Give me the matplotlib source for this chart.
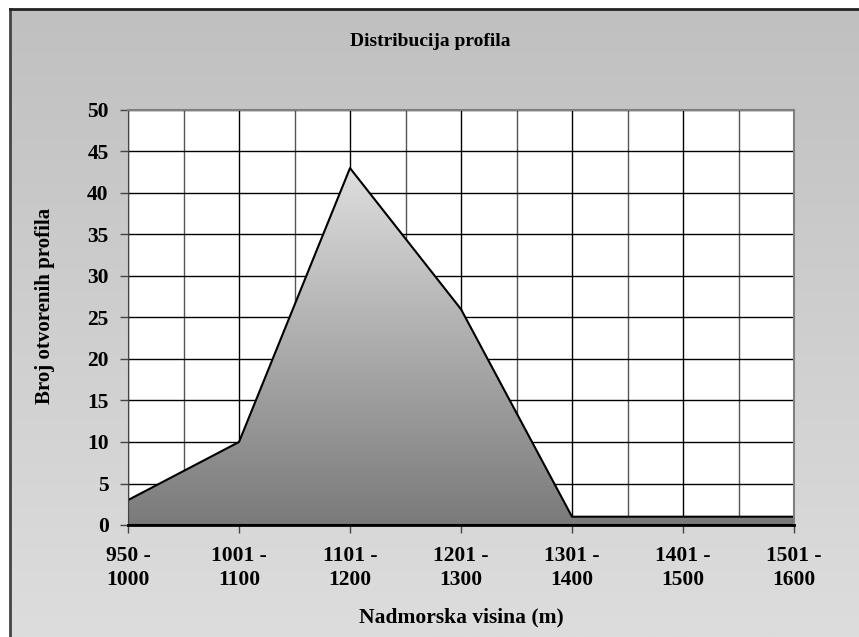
import numpy as np
import matplotlib
matplotlib.use("Agg")
import matplotlib.pyplot as plt
from matplotlib.colors import LinearSegmentedColormap

categories = ["950 -\n1000", "1001 -\n1100", "1101 -\n1200", "1201 -\n1300",
              "1301 -\n1400", "1401 -\n1500", "1501 -\n1600"]
counts = [3, 10, 43, 26, 1, 1, 1]

plt.rcParams['font.family'] = ['Liberation Serif', 'DejaVu Serif']
plt.rcParams['font.weight'] = 'bold'

W, H = 859, 637
fig = plt.figure(figsize=(W / 100, H / 100), dpi=100)
fig.patch.set_facecolor('white')

# chart area background (gray gradient) with frame
bg = fig.add_axes([10 / W, 0, 1 - 10 / W, 1 - 9 / H])
bg_cmap = LinearSegmentedColormap.from_list('bg', ['#dddddd', '#c0c0c0'])
bg.imshow(np.linspace(0, 1, 256).reshape(-1, 1), aspect='auto',
          cmap=bg_cmap, origin='lower', extent=[0, 1, 0, 1])
bg.set_xlim(0, 1)
bg.set_ylim(0, 1)
bg.set_xticks([])
bg.set_yticks([])
for side in ['right', 'bottom']:
    bg.spines[side].set_visible(False)
bg.spines['top'].set_linewidth(2)
bg.spines['left'].set_linewidth(2)
bg.spines['top'].set_color('#222222')
bg.spines['left'].set_color('#444444')

# plot area
left, right, top, bottom = 128, 794, 110, 525
ax = fig.add_axes([left / W, (H - bottom) / H, (right - left) / W, (bottom - top) / H])
ax.set_facecolor('white')
x = np.arange(len(counts))

ax.set_xticks(x)
ax.set_xticks(np.arange(0, len(counts) - 1, 0.5), minor=True)
ax.set_yticks(np.arange(0, 51, 5))
ax.grid(which='major', color='black', linewidth=1, zorder=0)
ax.grid(which='minor', axis='x', color='#555555', linewidth=1, zorder=0)
ax.set_axisbelow(True)

poly = ax.fill_between(x, counts, 0, facecolor='none', edgecolor='black',
                       linewidth=1.5, zorder=3)
grad_cmap = LinearSegmentedColormap.from_list('fill', ['#7a7a7a', '#dedede'])
grad = ax.imshow(np.linspace(0, 1, 256).reshape(-1, 1), aspect='auto',
                 cmap=grad_cmap, origin='lower',
                 extent=[0, len(counts) - 1, 0, max(counts)], zorder=2)
grad.set_clip_path(poly.get_paths()[0], transform=ax.transData)
ax.set_xlim(0, len(counts) - 1)
ax.set_ylim(0, 50)

ax.set_xticklabels(categories, fontsize=15.5, fontweight='bold', linespacing=1.3)
ax.tick_params(axis='x', which='major', direction='out', length=6, width=1,
               color='#444444', pad=9)
ax.tick_params(axis='x', which='minor', length=0)
ax.tick_params(axis='y', direction='out', length=6, width=1, color='#444444',
               labelsize=15.5, pad=8)
for lab in ax.get_yticklabels():
    lab.set_fontweight('bold')

ax.spines['bottom'].set_linewidth(2)
ax.spines['bottom'].set_color('black')
ax.spines['left'].set_color('#444444')
ax.spines['top'].set_color('#808080')
ax.spines['right'].set_color('#808080')
ax.spines['top'].set_linewidth(1.5)
ax.spines['right'].set_linewidth(1.5)
for s in ax.spines.values():
    s.set_zorder(4)

fig.text(430 / W, 1 - 42 / H, "Distribucija profila", ha='center', va='center',
         fontsize=14, fontweight='bold')
fig.text(461 / W, 1 - 617 / H, "Nadmorska visina (m)", ha='center', va='center',
         fontsize=15.5, fontweight='bold')
fig.text(45 / W, 1 - 404 / H, "Broj otvorenih profila", ha='center', va='bottom',
         rotation=90, fontsize=15, fontweight='bold')

fig.savefig('out.png', dpi=100)
